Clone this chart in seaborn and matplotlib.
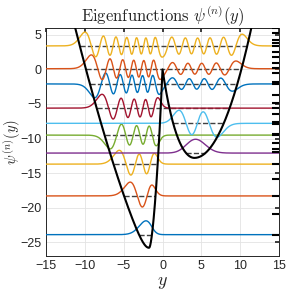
import numpy as np
import seaborn as sns
import matplotlib
matplotlib.use('Agg')
import matplotlib.pyplot as plt

# energies of the plotted eigenfunctions, plotting order
E_SHOWN = [-23.9, -18.3, -13.7, -12.1, -9.5, -7.8, -5.6, -2.1, 0.1, 3.4]
SIGNS = [1, 1, 1, 1, -1, 1, 1, -1, 1, 1]
# where each state lives: L = left well, R = right well, F = whole line
SHAPE_WELL = ['L', 'L', 'L', 'R', 'L', 'R', 'L', 'F', 'F', 'F']
DASH_WELL = ['L', 'L', 'L', 'R', 'L', 'R', 'F', 'F', 'F', 'F']
# full spectrum marks on the right edge
SPECTRUM = [-23.9, -20.9, -18.3, -15.9, -13.7, -12.0, -11.5, -10.7, -9.55, -9.35,
            -7.85, -7.66, -6.4, -5.57, -4.87, -3.63, -2.08, -1.79, -0.58, 0.15,
            0.92, 1.79, 2.57, 3.39, 3.88, 4.26, 5.2, 5.95]
COLORS = ['#0072BD', '#D95319', '#EDB120', '#7E2F8E', '#77AC30', '#4DBEEE', '#A2142F']

# double well: left well (min at -1.74, -25.8), right well (min at 4.1, -12.8)
YL, DL = -1.74, -25.8
YR, DR = 4.1, -12.8


def left_well(y):
    u = y - YL
    return np.where(u < 0,
                    DL + 0.088 * u**2 + 2.79 * (np.sqrt(u**2 + 1) - 1),
                    DL + 5.56 * u**2 + 6.1 * (np.sqrt(u**2 + 0.09) - 0.3))


def right_well(y):
    v = y - YR
    return np.where(v < 0, DR + 0.6 * v**2 + 0.0096 * v**4, DR + 0.35 * v**2)


y = np.linspace(-15, 15, 1501)
pots = {'L': left_well(y), 'R': right_well(y)}
pots['F'] = np.where(y < 0, pots['L'], pots['R'])
V = pots['F']


def solve(pot):
    # -psi'' + V psi = E psi, psi = 0 at both ends
    h = y[1] - y[0]
    n = len(y) - 2
    H = (np.diag(2 / h**2 + pot[1:-1]) + np.diag(np.full(n - 1, -1 / h**2), 1)
         + np.diag(np.full(n - 1, -1 / h**2), -1))
    return np.linalg.eigh(H)


spectra = {key: solve(p) for key, p in pots.items()}

sns.set_theme(style='white')
plt.rcParams['font.family'] = ['Liberation Sans', 'DejaVu Sans']
plt.rcParams['mathtext.fontset'] = 'cm'

fig = plt.figure(figsize=(2.91, 2.91), dpi=100)
ax = fig.add_axes([0.158, 0.12, 0.801, 0.784])

for i, E in enumerate(E_SHOWN):
    evals, evecs = spectra[SHAPE_WELL[i]]
    k = np.argmin(np.abs(evals - E))
    psi = np.zeros_like(y)
    psi[1:-1] = evecs[:, k]
    psi = 2 * psi / np.abs(psi).max()
    first = np.argmax(np.abs(psi) > 0.5)
    psi *= SIGNS[i] * np.sign(psi[first])
    inside = y[pots[DASH_WELL[i]] < E]
    ax.plot([inside.min(), inside.max()], [E, E], '--', color='0.25', lw=1, zorder=2)
    sns.lineplot(x=y, y=E + psi, color=COLORS[i % 7], linewidth=1, ax=ax,
                 estimator=None, sort=False, zorder=3)

sns.lineplot(x=y, y=V, color='black', linewidth=1.5, ax=ax, estimator=None, sort=False, zorder=4)
ax.hlines(SPECTRUM, 14.1, 15, color='black', lw=1.5, zorder=5)

ax.set_xlim(-15, 15)
ax.set_ylim(-27, 6)
ax.set_xticks(range(-15, 16, 5))
ax.set_yticks(range(-25, 6, 5))
ax.grid(True, color='#e3e3e3', lw=0.6)
ax.tick_params(direction='in', length=3, top=True, right=True, labelsize=9,
               colors='#262626', pad=3)
for s in ax.spines.values():
    s.set_color('#262626')
    s.set_linewidth(0.7)
ax.set_title(r'$\mathrm{Eigenfunctions}\ \psi^{(n)}(y)$', fontsize=12, pad=5)
ax.set_xlabel(r'$y$', fontsize=13, labelpad=1)
ax.set_ylabel(r'$\psi^{(n)}(y)$', fontsize=10.5)
ax.yaxis.set_label_coords(-0.1, 0.5)

fig.savefig('out.png', dpi=100)
